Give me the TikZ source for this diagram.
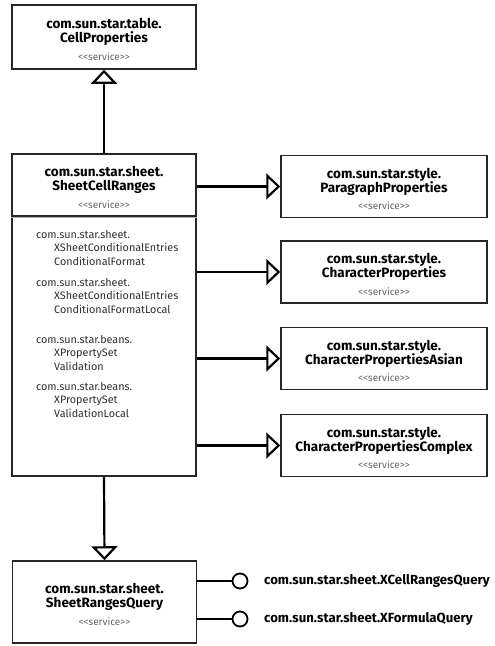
\documentclass[tikz,border=0pt]{standalone}
\usepackage{fontspec}
\setmainfont{Fira Sans}
\usetikzlibrary{arrows.meta}
\newcommand\svctext{\fontsize{10}{11}\selectfont\mdseries\color{black!60}}
\newcommand\topstrut{\rule{0pt}{15pt}}
\begin{document}
\begin{tikzpicture}[x=1pt,y=-1pt,
  box/.style={draw=black!85,line width=1.5pt,minimum width=184pt,align=center,inner sep=0pt,
    font=\fontsize{13.5}{14}\selectfont\bfseries},
  rbox/.style={box,minimum width=206pt,minimum height=62pt},
  attr/.style={anchor=north west,align=left,inner sep=0pt,text=black!82,
    font=\fontsize{10.8}{13.5}\selectfont},
  gen/.style={line width=2.2pt,-{Triangle[open,length=14pt,width=26pt]}},
  conn/.style={line width=2.2pt},
  iface/.style={circle,draw,line width=1.8pt,minimum size=15pt,inner sep=0pt},
  ilabel/.style={anchor=west,inner sep=0pt,font=\fontsize{13.2}{14}\selectfont\bfseries}]
\useasboundingbox (0,0) rectangle (495,646);
% nodes
\node[box,minimum height=64pt] (cp) at (104,37) {\topstrut com.sun.star.table.\\CellProperties\\[3.5pt]{\svctext <{}<service>{}>}};
\node[box,minimum height=62pt] (scrh) at (104,185) {\topstrut com.sun.star.sheet.\\SheetCellRanges\\[3.5pt]{\svctext <{}<service>{}>}};
\node[box,minimum height=260pt] (scrb) at (104,346) {};
\draw[black!30,line width=1.5pt] ([yshift=-2pt]scrb.north west) -- ([yshift=-2pt]scrb.north east);
\node[attr] (a1) at (36,230) {com.sun.star.sheet.\\\hspace*{18pt}XSheetConditionalEntries\\\hspace*{18pt}ConditionalFormat};
\node[attr] (a2) at (36,278) {com.sun.star.sheet.\\\hspace*{18pt}XSheetConditionalEntries\\\hspace*{18pt}ConditionalFormatLocal};
\node[attr] (a3) at (36,335) {com.sun.star.beans.\\\hspace*{18pt}XPropertySet\\\hspace*{18pt}Validation};
\node[attr] (a4) at (36,382) {com.sun.star.beans.\\\hspace*{18pt}XPropertySet\\\hspace*{18pt}ValidationLocal};
\node[rbox] (pp) at (384,186.5) {\topstrut com.sun.star.style.\\ParagraphProperties\\[3.5pt]{\svctext <{}<service>{}>}};
\node[rbox] (chp) at (384,272) {\topstrut com.sun.star.style.\\CharacterProperties\\[3.5pt]{\svctext <{}<service>{}>}};
\node[rbox] (cpa) at (384,358.5) {\topstrut com.sun.star.style.\\CharacterPropertiesAsian\\[3.5pt]{\svctext <{}<service>{}>}};
\node[rbox] (cpc) at (384,445.5) {\topstrut com.sun.star.style.\\CharacterPropertiesComplex\\[3.5pt]{\svctext <{}<service>{}>}};
\node[box,minimum height=82pt] (srq) at (104.5,602) {\topstrut com.sun.star.sheet.\\SheetRangesQuery\\[3.5pt]{\svctext <{}<service>{}>}};
\node[iface] (i1) at (240,581) {};
\node[iface] (i2) at (240,619) {};
\node[ilabel] (l1) at (264,581) {com.sun.star.sheet.XCellRangesQuery};
\node[ilabel] (l2) at (264,619) {com.sun.star.sheet.XFormulaQuery};
% connectors
\draw[gen] (scrh.north) -- (cp.south);
\draw[gen] (pp.west -| scrh.east) -- (pp.west);
\draw[gen] (chp.west -| scrb.east) -- (chp.west);
\draw[gen] (cpa.west -| scrb.east) -- (cpa.west);
\draw[gen] (cpc.west -| scrb.east) -- (cpc.west);
\draw[gen] (scrb.south) -- (srq.north);
\draw[conn] (i1.west -| srq.east) -- (i1.west);
\draw[conn] (i2.west -| srq.east) -- (i2.west);
\end{tikzpicture}
\end{document}
